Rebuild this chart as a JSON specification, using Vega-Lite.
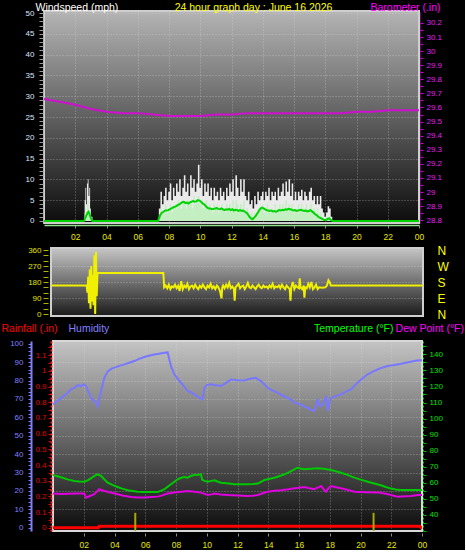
{
"$schema": "https://vega.github.io/schema/vega-lite/v6.json",
"background": "#000000",
"padding": {"left": 0, "top": 1, "right": 0, "bottom": 0},
"config": {
  "font": "Liberation Sans",
  "axis": {"labelFont": "Liberation Sans", "titleFont": "Liberation Sans", "titleFontWeight": "normal", "titleFontSize": 10.5, "labelFontSize": 8, "labelOverlap": false, "labelFlush": false}
},
"datasets": {
  "wind": [
    {"h":0,"g":0,"s":0,"a":0},{"h":2.55,"g":0,"s":0,"a":0},{"h":2.6,"g":5,"s":2,"a":0.3},{"h":2.65,"g":8,"s":3,"a":0.8},{"h":2.7,"g":4,"s":1,"a":1.2},{"h":2.75,"g":9,"s":4,"a":1.6},{"h":2.8,"g":10,"s":5,"a":2.0},{"h":2.85,"g":6,"s":3,"a":2.2},{"h":2.9,"g":8,"s":2,"a":1.8},{"h":2.95,"g":3,"s":1,"a":1.2},{"h":3.0,"g":1,"s":0,"a":0.6},{"h":3.1,"g":0,"s":0,"a":0},{"h":7.3,"g":0,"s":0,"a":0},
    {"h":7.35,"g":3,"s":1,"a":0.5},{"h":7.45,"g":7,"s":3,"a":1.5},{"h":7.55,"g":4,"s":2,"a":2.0},{"h":7.65,"g":6,"s":2,"a":2.2},{"h":7.75,"g":8,"s":4,"a":2.5},{"h":7.85,"g":5,"s":2,"a":2.5},{"h":7.95,"g":7,"s":3,"a":2.6},{"h":8.05,"g":9,"s":4,"a":2.8},{"h":8.15,"g":5,"s":2,"a":3.0},{"h":8.25,"g":8,"s":3,"a":3.2},{"h":8.35,"g":6,"s":4,"a":3.4},{"h":8.45,"g":9,"s":3,"a":3.5},{"h":8.55,"g":7,"s":5,"a":3.8},{"h":8.65,"g":10,"s":4,"a":4.0},{"h":8.75,"g":6,"s":3,"a":4.2},{"h":8.85,"g":8,"s":5,"a":4.5},{"h":8.95,"g":11,"s":4,"a":4.6},{"h":9.05,"g":7,"s":3,"a":4.3},{"h":9.15,"g":9,"s":5,"a":4.4},{"h":9.25,"g":6,"s":4,"a":4.2},{"h":9.35,"g":11,"s":5,"a":4.5},{"h":9.45,"g":8,"s":3,"a":4.6},{"h":9.55,"g":10,"s":6,"a":4.8},{"h":9.65,"g":7,"s":4,"a":4.6},{"h":9.75,"g":9,"s":5,"a":4.7},{"h":9.85,"g":13.5,"s":6,"a":5.0},{"h":9.95,"g":8,"s":4,"a":4.9},{"h":10.05,"g":10,"s":5,"a":4.6},{"h":10.15,"g":6,"s":3,"a":4.2},{"h":10.25,"g":9,"s":4,"a":4.0},{"h":10.35,"g":7,"s":5,"a":3.6},{"h":10.45,"g":9,"s":3,"a":3.2},{"h":10.55,"g":6,"s":4,"a":3.0},{"h":10.65,"g":8,"s":3,"a":3.0},{"h":10.75,"g":5,"s":2,"a":2.8},{"h":10.85,"g":8,"s":4,"a":2.9},{"h":10.95,"g":6,"s":3,"a":3.0},{"h":11.05,"g":7,"s":4,"a":3.1},{"h":11.15,"g":5,"s":2,"a":2.9},{"h":11.25,"g":8,"s":3,"a":2.8},{"h":11.35,"g":6,"s":4,"a":3.0},{"h":11.45,"g":7,"s":3,"a":2.8},{"h":11.55,"g":5,"s":2,"a":2.6},{"h":11.65,"g":8,"s":4,"a":2.8},{"h":11.75,"g":6,"s":3,"a":2.7},{"h":11.85,"g":9,"s":4,"a":2.9},{"h":11.95,"g":7,"s":3,"a":2.6},{"h":12.05,"g":10,"s":5,"a":2.8},{"h":12.15,"g":6,"s":3,"a":2.5},{"h":12.25,"g":11,"s":5,"a":2.7},{"h":12.35,"g":8,"s":4,"a":2.6},{"h":12.45,"g":6,"s":3,"a":2.4},{"h":12.55,"g":10,"s":4,"a":2.6},{"h":12.65,"g":7,"s":3,"a":2.4},{"h":12.75,"g":10,"s":5,"a":2.5},{"h":12.85,"g":6,"s":2,"a":2.2},{"h":12.95,"g":5,"s":3,"a":2.0},{"h":13.05,"g":7,"s":2,"a":1.6},{"h":13.15,"g":4,"s":1,"a":1.0},{"h":13.25,"g":5,"s":2,"a":0.6},{"h":13.35,"g":3,"s":1,"a":0.4},{"h":13.45,"g":6,"s":2,"a":0.8},{"h":13.55,"g":4,"s":2,"a":1.2},{"h":13.65,"g":7,"s":3,"a":1.8},{"h":13.75,"g":5,"s":2,"a":2.4},{"h":13.85,"g":6,"s":3,"a":3.0},{"h":13.95,"g":7,"s":4,"a":3.2},{"h":14.05,"g":5,"s":2,"a":3.0},{"h":14.15,"g":7,"s":3,"a":2.8},{"h":14.25,"g":6,"s":4,"a":2.6},{"h":14.35,"g":8,"s":3,"a":2.5},{"h":14.45,"g":5,"s":2,"a":2.4},{"h":14.55,"g":7,"s":3,"a":2.5},{"h":14.65,"g":6,"s":2,"a":2.3},{"h":14.75,"g":7,"s":4,"a":2.4},{"h":14.85,"g":5,"s":2,"a":2.2},{"h":14.95,"g":8,"s":3,"a":2.4},{"h":15.05,"g":6,"s":4,"a":2.6},{"h":15.15,"g":7,"s":3,"a":2.5},{"h":15.25,"g":9,"s":4,"a":2.7},{"h":15.35,"g":6,"s":3,"a":2.6},{"h":15.45,"g":9.5,"s":5,"a":2.8},{"h":15.55,"g":7,"s":3,"a":2.7},{"h":15.65,"g":10,"s":4,"a":2.9},{"h":15.75,"g":6,"s":3,"a":2.8},{"h":15.85,"g":9,"s":4,"a":2.7},{"h":15.95,"g":5,"s":2,"a":2.5},{"h":16.05,"g":7,"s":3,"a":2.6},{"h":16.15,"g":5,"s":2,"a":2.4},{"h":16.25,"g":7,"s":4,"a":2.5},{"h":16.35,"g":6,"s":3,"a":2.6},{"h":16.45,"g":7.5,"s":4,"a":2.7},{"h":16.55,"g":5,"s":2,"a":2.5},{"h":16.65,"g":7,"s":3,"a":2.4},{"h":16.75,"g":6,"s":4,"a":2.5},{"h":16.85,"g":5,"s":2,"a":2.3},{"h":16.95,"g":7,"s":3,"a":2.4},{"h":17.05,"g":8,"s":4,"a":2.6},{"h":17.15,"g":5,"s":2,"a":2.3},{"h":17.25,"g":6,"s":3,"a":2.0},{"h":17.35,"g":4,"s":2,"a":1.6},{"h":17.45,"g":6,"s":3,"a":1.4},{"h":17.55,"g":4,"s":1,"a":1.0},{"h":17.65,"g":6,"s":2,"a":0.8},{"h":17.75,"g":3,"s":1,"a":0.6},{"h":17.85,"g":2,"s":0,"a":0.4},{"h":17.95,"g":1,"s":0,"a":0.2},{"h":18.05,"g":2,"s":1,"a":0.2},{"h":18.15,"g":3.5,"s":1,"a":0.5},{"h":18.25,"g":3,"s":1,"a":0.6},{"h":18.35,"g":1,"s":0,"a":0.3},{"h":18.45,"g":0,"s":0,"a":0},{"h":24,"g":0,"s":0,"a":0}
  ],
  "baro": [
    {"h":0,"b":29.66},{"h":1,"b":29.64},{"h":2,"b":29.62},{"h":3,"b":29.59},{"h":4,"b":29.57},{"h":5,"b":29.56},{"h":6,"b":29.56},{"h":7,"b":29.55},{"h":8,"b":29.54},{"h":9,"b":29.54},{"h":10,"b":29.54},{"h":11,"b":29.55},{"h":12,"b":29.55},{"h":13,"b":29.56},{"h":14,"b":29.56},{"h":15,"b":29.56},{"h":16,"b":29.56},{"h":17,"b":29.56},{"h":18,"b":29.56},{"h":19,"b":29.56},{"h":20,"b":29.57},{"h":21,"b":29.57},{"h":22,"b":29.58},{"h":23,"b":29.58},{"h":24,"b":29.58}
  ],
  "dir": [
    {"h":0,"d":160},{"h":2.3,"d":160},{"h":2.35,"d":120},{"h":2.4,"d":210},{"h":2.45,"d":60},{"h":2.5,"d":250},{"h":2.55,"d":30},{"h":2.6,"d":270},{"h":2.65,"d":70},{"h":2.7,"d":220},{"h":2.75,"d":50},{"h":2.8,"d":330},{"h":2.85,"d":0},{"h":2.9,"d":350},{"h":2.95,"d":100},{"h":3.0,"d":230},{"h":7.25,"d":230},
    {"h":7.3,"d":150},{"h":7.4,"d":160},{"h":7.5,"d":145},{"h":7.6,"d":165},{"h":7.7,"d":140},{"h":7.8,"d":155},{"h":7.9,"d":150},{"h":8.0,"d":165},{"h":8.1,"d":145},{"h":8.2,"d":158},{"h":8.3,"d":130},{"h":8.4,"d":185},{"h":8.5,"d":140},{"h":8.6,"d":160},{"h":8.7,"d":150},{"h":8.8,"d":170},{"h":8.9,"d":140},{"h":9.0,"d":155},{"h":9.1,"d":160},{"h":9.2,"d":145},{"h":9.3,"d":165},{"h":9.4,"d":150},{"h":9.5,"d":140},{"h":9.6,"d":158},{"h":9.7,"d":148},{"h":9.8,"d":165},{"h":9.9,"d":150},{"h":10.0,"d":140},{"h":10.1,"d":160},{"h":10.2,"d":150},{"h":10.3,"d":170},{"h":10.4,"d":145},{"h":10.5,"d":155},{"h":10.6,"d":140},{"h":10.7,"d":160},{"h":10.8,"d":150},{"h":10.9,"d":130},{"h":11.0,"d":88},{"h":11.05,"d":150},{"h":11.1,"d":160},{"h":11.2,"d":145},{"h":11.3,"d":165},{"h":11.4,"d":150},{"h":11.5,"d":175},{"h":11.6,"d":145},{"h":11.7,"d":155},{"h":11.8,"d":140},{"h":11.85,"d":75},{"h":11.9,"d":150},{"h":12.0,"d":160},{"h":12.1,"d":170},{"h":12.2,"d":145},{"h":12.3,"d":155},{"h":12.4,"d":160},{"h":12.5,"d":140},{"h":12.6,"d":155},{"h":12.7,"d":175},{"h":12.8,"d":150},{"h":12.9,"d":145},{"h":13.0,"d":160},{"h":13.1,"d":150},{"h":13.2,"d":140},{"h":13.3,"d":155},{"h":13.4,"d":165},{"h":13.5,"d":150},{"h":13.6,"d":145},{"h":13.7,"d":160},{"h":13.8,"d":150},{"h":13.9,"d":155},{"h":14.0,"d":145},{"h":14.1,"d":160},{"h":14.2,"d":150},{"h":14.3,"d":170},{"h":14.4,"d":145},{"h":14.5,"d":155},{"h":14.6,"d":150},{"h":14.7,"d":160},{"h":14.8,"d":145},{"h":14.9,"d":165},{"h":15.0,"d":150},{"h":15.1,"d":140},{"h":15.2,"d":160},{"h":15.3,"d":150},{"h":15.4,"d":140},{"h":15.45,"d":75},{"h":15.5,"d":150},{"h":15.6,"d":180},{"h":15.7,"d":140},{"h":15.8,"d":160},{"h":15.9,"d":150},{"h":16.0,"d":145},{"h":16.05,"d":200},{"h":16.1,"d":150},{"h":16.2,"d":140},{"h":16.3,"d":160},{"h":16.35,"d":92},{"h":16.4,"d":150},{"h":16.5,"d":145},{"h":16.6,"d":170},{"h":16.7,"d":150},{"h":16.8,"d":180},{"h":16.9,"d":140},{"h":17.0,"d":150},{"h":17.1,"d":165},{"h":17.2,"d":140},{"h":17.3,"d":150},{"h":17.5,"d":148},{"h":17.7,"d":150},{"h":17.8,"d":160},{"h":17.9,"d":190},{"h":18.0,"d":175},{"h":18.05,"d":160},{"h":24,"d":160}
  ],
  "hum": [
    {"h":0,"v":67},{"h":0.3,"v":69},{"h":0.6,"v":71},{"h":0.95,"v":73.4},{"h":1.2,"v":75.5},{"h":1.4,"v":76},{"h":1.6,"v":77.5},{"h":1.82,"v":77},{"h":2.0,"v":78},{"h":2.15,"v":77},{"h":2.3,"v":74},{"h":2.47,"v":70.6},{"h":2.65,"v":69},{"h":2.8,"v":68},{"h":2.9,"v":66},{"h":3.0,"v":70},{"h":3.12,"v":74},{"h":3.34,"v":81.5},{"h":3.56,"v":85},{"h":3.8,"v":86.5},{"h":4.0,"v":87},{"h":4.3,"v":88},{"h":4.64,"v":88.8},{"h":5.0,"v":89.8},{"h":5.29,"v":90.6},{"h":5.6,"v":91.8},{"h":5.94,"v":92.8},{"h":6.3,"v":93.6},{"h":6.59,"v":94.2},{"h":6.9,"v":94.6},{"h":7.24,"v":95.1},{"h":7.46,"v":95.3},{"h":7.55,"v":92},{"h":7.67,"v":88},{"h":7.89,"v":83.4},{"h":8.1,"v":81},{"h":8.33,"v":78.8},{"h":8.55,"v":76.5},{"h":8.76,"v":74.3},{"h":9.0,"v":73.5},{"h":9.19,"v":72.5},{"h":9.35,"v":71.5},{"h":9.5,"v":70.7},{"h":9.73,"v":69.8},{"h":9.84,"v":76},{"h":10.0,"v":77.5},{"h":10.27,"v":78},{"h":10.6,"v":77.5},{"h":10.93,"v":77},{"h":11.2,"v":78.5},{"h":11.58,"v":80.6},{"h":12.0,"v":80.2},{"h":12.44,"v":80},{"h":12.8,"v":81},{"h":13.2,"v":81.5},{"h":13.35,"v":80.5},{"h":13.53,"v":79.7},{"h":13.75,"v":78},{"h":13.96,"v":76},{"h":14.3,"v":74.5},{"h":14.6,"v":73.4},{"h":14.9,"v":72},{"h":15.26,"v":70.6},{"h":15.5,"v":69.5},{"h":15.7,"v":68},{"h":15.9,"v":67.5},{"h":16.13,"v":67},{"h":16.3,"v":66},{"h":16.56,"v":65.2},{"h":16.8,"v":64},{"h":16.99,"v":63.4},{"h":17.1,"v":66},{"h":17.2,"v":70},{"h":17.3,"v":67},{"h":17.43,"v":66},{"h":17.6,"v":68},{"h":17.76,"v":71.6},{"h":17.87,"v":63.4},{"h":17.95,"v":67},{"h":18.08,"v":70.6},{"h":18.4,"v":71.5},{"h":18.73,"v":72.5},{"h":19.05,"v":74},{"h":19.38,"v":75.2},{"h":19.8,"v":78.8},{"h":20.1,"v":81},{"h":20.47,"v":83.4},{"h":20.8,"v":84.8},{"h":21.1,"v":86},{"h":21.4,"v":87},{"h":21.77,"v":87.9},{"h":22.2,"v":88.5},{"h":22.64,"v":89.1},{"h":23.1,"v":90},{"h":23.5,"v":90.6},{"h":23.8,"v":91},{"h":24,"v":91}
  ],
  "temp": [
    {"h":0,"t":64.9},{"h":0.4,"t":63.8},{"h":0.73,"t":62.8},{"h":1.0,"t":62},{"h":1.39,"t":61.2},{"h":1.7,"t":60.8},{"h":2.03,"t":60.7},{"h":2.25,"t":61.5},{"h":2.47,"t":62.8},{"h":2.7,"t":64.3},{"h":2.9,"t":65.3},{"h":3.12,"t":64.3},{"h":3.3,"t":62.5},{"h":3.56,"t":60.1},{"h":3.9,"t":58.6},{"h":4.2,"t":57.4},{"h":4.5,"t":56.4},{"h":4.86,"t":55.4},{"h":5.2,"t":54.9},{"h":5.51,"t":54.5},{"h":5.94,"t":54.3},{"h":6.4,"t":54.3},{"h":6.81,"t":54.3},{"h":7.0,"t":55},{"h":7.24,"t":56},{"h":7.45,"t":57.5},{"h":7.67,"t":59.1},{"h":7.9,"t":60.7},{"h":8.11,"t":62.2},{"h":8.3,"t":63},{"h":8.54,"t":63.6},{"h":8.76,"t":63.2},{"h":8.95,"t":64.3},{"h":9.19,"t":64.9},{"h":9.45,"t":65},{"h":9.63,"t":65.3},{"h":9.7,"t":62},{"h":9.85,"t":61.2},{"h":10.06,"t":60.7},{"h":10.3,"t":61.2},{"h":10.5,"t":61.6},{"h":10.7,"t":60.8},{"h":10.93,"t":60.1},{"h":11.3,"t":59.8},{"h":11.8,"t":59.1},{"h":12.2,"t":59.1},{"h":12.66,"t":59.1},{"h":13.0,"t":59.2},{"h":13.32,"t":59.5},{"h":13.5,"t":60.5},{"h":13.75,"t":61.8},{"h":14.1,"t":62.5},{"h":14.4,"t":63.2},{"h":14.75,"t":64.2},{"h":15.05,"t":65.3},{"h":15.4,"t":66.8},{"h":15.7,"t":68.4},{"h":15.9,"t":69.4},{"h":16.1,"t":68.9},{"h":16.34,"t":68.4},{"h":16.8,"t":68.8},{"h":17.2,"t":69.1},{"h":17.6,"t":68.7},{"h":18.08,"t":68},{"h":18.4,"t":67.2},{"h":18.73,"t":66.3},{"h":19.2,"t":64.8},{"h":19.6,"t":63.2},{"h":20.0,"t":62},{"h":20.47,"t":60.7},{"h":20.9,"t":59.6},{"h":21.33,"t":58.5},{"h":21.65,"t":57.4},{"h":21.98,"t":56.4},{"h":22.3,"t":55.8},{"h":22.63,"t":55.6},{"h":23.2,"t":55.6},{"h":23.72,"t":55.6},{"h":24,"t":55.6}
  ],
  "dew": [
    {"h":0,"t":53.3},{"h":0.5,"t":53.1},{"h":1.0,"t":53.2},{"h":1.5,"t":53.3},{"h":2.03,"t":53.3},{"h":2.15,"t":50.8},{"h":2.4,"t":51.8},{"h":2.68,"t":52.9},{"h":2.85,"t":54.5},{"h":3.0,"t":56},{"h":3.34,"t":54.9},{"h":3.8,"t":53.8},{"h":4.2,"t":52.9},{"h":4.6,"t":52},{"h":5.07,"t":51.2},{"h":5.5,"t":50.9},{"h":5.94,"t":50.8},{"h":6.4,"t":51.1},{"h":6.81,"t":51.4},{"h":7.1,"t":52.2},{"h":7.46,"t":53.3},{"h":7.9,"t":54},{"h":8.33,"t":54.5},{"h":8.76,"t":54.9},{"h":9.2,"t":54.4},{"h":9.63,"t":53.9},{"h":10.06,"t":52.4},{"h":10.3,"t":52.8},{"h":10.5,"t":53.3},{"h":10.9,"t":52.8},{"h":11.37,"t":52.4},{"h":12.0,"t":52.1},{"h":12.66,"t":51.8},{"h":13.0,"t":52},{"h":13.32,"t":52.4},{"h":13.65,"t":53.5},{"h":13.97,"t":54.5},{"h":14.4,"t":55},{"h":14.83,"t":55.4},{"h":15.3,"t":56},{"h":15.7,"t":56.6},{"h":16.0,"t":57},{"h":16.34,"t":57.4},{"h":16.6,"t":56.8},{"h":17.0,"t":56},{"h":17.2,"t":57},{"h":17.45,"t":58},{"h":17.6,"t":56},{"h":17.76,"t":54.5},{"h":17.9,"t":56.5},{"h":18.08,"t":58},{"h":18.4,"t":57.3},{"h":18.73,"t":56.6},{"h":19.2,"t":55.5},{"h":19.6,"t":54.5},{"h":20.4,"t":54.2},{"h":21.2,"t":53.9},{"h":21.8,"t":52.9},{"h":22.4,"t":51.4},{"h":22.9,"t":51.6},{"h":23.28,"t":51.8},{"h":23.72,"t":52.4},{"h":24,"t":52.4}
  ],
  "rain": [
    {"h":0,"r":0},{"h":2.95,"r":0},{"h":3.0,"r":0.01},{"h":23.85,"r":0.01},{"h":23.95,"r":0},{"h":24,"r":0}
  ],
  "sun": [
    {"h":5.35,"top":0.095,"bot":-0.02},{"h":20.85,"top":0.095,"bot":-0.02}
  ]
},
"spacing": 1,
"vconcat": [
  {
    "spacing": 0,
    "vconcat": [
      {
        "width": 375,
        "height": 212,
        "view": {"fill": {"gradient": "linear", "x1": 0, "y1": 0, "x2": 0, "y2": 1, "stops": [{"offset": 0, "color": "#b4b4b4"}, {"offset": 1, "color": "#0c0c0c"}]}, "stroke": "#cfcfcf", "strokeWidth": 2},
        "resolve": {"scale": {"y": "independent"}, "axis": {"x": "independent", "y": "independent"}},
        "layer": [
          {
            "data": {"name": "wind"},
            "mark": {"type": "area", "interpolate": "step-after", "color": "#f6f6f6", "opacity": 0.95},
            "encoding": {
              "x": {"field": "h", "type": "quantitative", "scale": {"domain": [0, 24], "nice": false, "zero": false},
                "axis": {"values": [2,4,6,8,10,12,14,16,18,20,22,24], "labelExpr": "datum.value == 24 ? '00' : (datum.value < 10 ? '0' + datum.value : '' + datum.value)", "labelColor": "#e8e800", "labelFontSize": 8.5, "tickColor": "#8a8a8a", "tickSize": 3, "domain": true, "domainColor": "#90e090", "domainWidth": 1.5, "offset": 2, "labelPadding": 4, "grid": true, "gridColor": "#e0e0e0", "gridDash": [1, 2], "gridOpacity": 0.45, "title": null}},
              "y": {"field": "g", "type": "quantitative", "scale": {"domain": [-0.5, 50.5], "nice": false, "zero": false},
                "axis": {"orient": "left", "offset": 1, "values": [0,1,2,3,4,5,6,7,8,9,10,11,12,13,14,15,16,17,18,19,20,21,22,23,24,25,26,27,28,29,30,31,32,33,34,35,36,37,38,39,40,41,42,43,44,45,46,47,48,49,50], "labelExpr": "datum.value % 5 == 0 ? datum.label : ''", "labelColor": "#dce6ff", "labelFontSize": 8, "labelPadding": 5, "tickSize": 4, "tickColor": "#9a9a9a", "domainColor": "#9a9a9a", "domainDash": [1, 1], "grid": true, "gridColor": "#e0e0e0", "gridDash": [1, 2], "gridOpacity": {"condition": {"test": "datum.value % 5 == 0 && datum.value > 0", "value": 0.45}, "value": 0}, "title": "Windspeed (mph)", "titleColor": "#ffffff", "titleAngle": 0, "titleAlign": "left", "titleBaseline": "alphabetic", "titleX": -8, "titleY": -1}},
              "y2": {"datum": 0}
            }
          },
          {
            "data": {"name": "wind"},
            "mark": {"type": "area", "interpolate": "step-after", "color": "#bff0bf", "opacity": 0.9},
            "encoding": {
              "x": {"field": "h", "type": "quantitative", "scale": {"domain": [0, 24], "nice": false, "zero": false}, "axis": null},
              "y": {"field": "s", "type": "quantitative", "scale": {"domain": [-0.5, 50.5], "nice": false, "zero": false}, "axis": null},
              "y2": {"datum": 0}
            }
          },
          {
            "data": {"name": "wind"},
            "mark": {"type": "line", "color": "#00d400", "strokeWidth": 2},
            "encoding": {
              "x": {"field": "h", "type": "quantitative", "scale": {"domain": [0, 24], "nice": false, "zero": false}, "axis": null},
              "y": {"field": "a", "type": "quantitative", "scale": {"domain": [-0.5, 50.5], "nice": false, "zero": false}, "axis": null}
            }
          },
          {
            "data": {"name": "baro"},
            "mark": {"type": "line", "color": "#d010d0", "strokeWidth": 2},
            "encoding": {
              "x": {"field": "h", "type": "quantitative", "scale": {"domain": [0, 24], "nice": false, "zero": false},
                "axis": {"orient": "top", "labels": false, "ticks": false, "domain": false, "grid": false, "title": "24 hour graph day : June 16 2026", "titleColor": "#ffff00", "titleX": 209, "titleY": -1, "titleAlign": "center", "titleBaseline": "alphabetic", "titleAngle": 0}},
              "y": {"field": "b", "type": "quantitative", "scale": {"domain": [28.78, 30.285], "nice": false, "zero": false},
                "axis": {"orient": "right", "offset": 1, "values": [28.8,28.85,28.9,28.95,29,29.05,29.1,29.15,29.2,29.25,29.3,29.35,29.4,29.45,29.5,29.55,29.6,29.65,29.7,29.75,29.8,29.85,29.9,29.95,30,30.05,30.1,30.15,30.2], "labelExpr": "abs(datum.value*10 - round(datum.value*10)) < 0.01 ? format(datum.value, '.1~f') : ''", "labelColor": "#e020f0", "labelFontSize": 8, "tickColor": "#d000d0", "domainColor": "#d000d0", "domainDash": [1, 1], "tickSize": 3, "labelPadding": 3, "grid": false, "title": "Barometer (.in)", "titleColor": "#ff00ff", "titleAngle": 0, "titleAlign": "right", "titleBaseline": "alphabetic", "titleX": 20, "titleY": -1}}
            }
          }
        ]
      },
      {
        "bounds": "flush",
        "spacing": 6,
        "hconcat": [
          {"width": 1, "height": 1, "data": {"values": [{"a": 0}]}, "mark": {"type": "text", "text": ""}, "view": {"stroke": null, "fill": null}},
          {
            "width": 372,
            "height": 68,
            "view": {"fill": {"gradient": "linear", "x1": 0, "y1": 0, "x2": 0, "y2": 1, "stops": [{"offset": 0, "color": "#c6c6c6"}, {"offset": 1, "color": "#1a1a1a"}]}, "stroke": "#cfcfcf", "strokeWidth": 2},
            "resolve": {"axis": {"y": "independent"}},
            "layer": [
              {
                "data": {"name": "dir"},
                "mark": {"type": "line", "color": "#f0f000", "strokeWidth": 2},
                "encoding": {
                  "x": {"field": "h", "type": "quantitative", "scale": {"domain": [0, 24], "nice": false, "zero": false}, "axis": null},
                  "y": {"field": "d", "type": "quantitative", "scale": {"domain": [-11.25, 371.25], "nice": false, "zero": false},
                    "axis": {"orient": "left", "offset": 3, "values": [0,30,60,90,120,150,180,210,240,270,300,330,360], "labelExpr": "datum.value % 90 == 0 ? datum.label : ''", "labelColor": "#e0e000", "labelFontSize": 8, "tickColor": "#b0b000", "tickSize": 5, "labelPadding": 2, "domain": false, "grid": true, "gridColor": "#e0e0e0", "gridDash": [1, 2], "gridOpacity": {"condition": {"test": "datum.value % 90 == 0 && datum.value > 0 && datum.value < 360", "value": 0.45}, "value": 0}, "title": null}}
                }
              },
              {
                "data": {"name": "dir"},
                "mark": {"type": "line", "opacity": 0},
                "encoding": {
                  "x": {"field": "h", "type": "quantitative", "scale": {"domain": [0, 24], "nice": false, "zero": false}, "axis": null},
                  "y": {"field": "d", "type": "quantitative",
                    "axis": {"orient": "right", "values": [0, 90, 180, 270, 360], "labelExpr": "['N','E','S','W','N'][round(datum.value/90)]", "labelColor": "#ffff00", "labelFontSize": 12, "ticks": false, "domain": false, "labelPadding": 14, "grid": false, "title": null}}
                }
              }
            ]
          }
        ]
      }
    ]
  },
  {
    "bounds": "flush",
    "spacing": 8,
    "hconcat": [
      {"width": 1, "height": 1, "data": {"values": [{"a": 0}]}, "mark": {"type": "text", "text": ""}, "view": {"stroke": null, "fill": null}},
      {
        "width": 369,
        "height": 190,
        "view": {"fill": {"gradient": "linear", "x1": 0, "y1": 0, "x2": 0, "y2": 1, "stops": [{"offset": 0, "color": "#c4c4c4"}, {"offset": 1, "color": "#0c0c0c"}]}, "stroke": "#d8d8d8", "strokeWidth": 2},
        "resolve": {"scale": {"y": "independent"}, "axis": {"x": "independent", "y": "independent"}},
        "layer": [
          {
            "data": {"name": "hum"},
            "mark": {"type": "line", "color": "#7878ff", "strokeWidth": 2},
            "encoding": {
              "x": {"field": "h", "type": "quantitative", "scale": {"domain": [0, 24], "nice": false, "zero": false},
                "axis": {"values": [2,4,6,8,10,12,14,16,18,20,22,24], "labelExpr": "datum.value == 24 ? '00' : (datum.value < 10 ? '0' + datum.value : '' + datum.value)", "labelColor": "#e8e800", "labelFontSize": 8.5, "tickColor": "#8a8a8a", "tickSize": 3, "domain": false, "offset": 2, "labelPadding": 4, "grid": true, "gridColor": "#e0e0e0", "gridDash": [1, 2], "gridOpacity": 0.45, "title": null}},
              "y": {"field": "v", "type": "quantitative", "scale": {"domain": [-1.8, 101.5], "nice": false, "zero": false},
                "axis": {"orient": "left", "offset": 22, "values": [0,2,4,6,8,10,12,14,16,18,20,22,24,26,28,30,32,34,36,38,40,42,44,46,48,50,52,54,56,58,60,62,64,66,68,70,72,74,76,78,80,82,84,86,88,90,92,94,96,98,100], "labelExpr": "datum.value % 10 == 0 ? datum.label : ''", "labelColor": "#8080ff", "labelFontSize": 8, "tickColor": "#8080ff", "tickSize": 3, "domainColor": "#8080ff", "domainWidth": 2, "labelPadding": 5, "grid": true, "gridColor": "#e0e0e0", "gridDash": [1, 2], "gridOpacity": {"condition": {"test": "datum.value % 10 == 0 && datum.value > 0 && datum.value < 100", "value": 0.45}, "value": 0}, "title": "Humidity", "titleColor": "#8080ff", "titleAngle": 0, "titleAlign": "left", "titleBaseline": "alphabetic", "titleX": 37, "titleY": -10}}
            }
          },
          {
            "data": {"name": "rain"},
            "mark": {"type": "line", "color": "#ff0000", "strokeWidth": 3},
            "encoding": {
              "x": {"field": "h", "type": "quantitative", "scale": {"domain": [0, 24], "nice": false, "zero": false}, "axis": null},
              "y": {"field": "r", "type": "quantitative", "scale": {"domain": [-0.021, 1.191], "nice": false, "zero": false},
                "axis": {"orient": "left", "offset": 2, "values": [0,0.05,0.1,0.15,0.2,0.25,0.3,0.35,0.4,0.45,0.5,0.55,0.6,0.65,0.7,0.75,0.8,0.85,0.9,0.95,1,1.05,1.1,1.15,1.2], "labelExpr": "abs(datum.value*10 - round(datum.value*10)) < 0.01 ? format(datum.value, '.1~f') : ''", "labelColor": "#e00000", "labelFontSize": 8, "tickColor": "#e00000", "tickSize": 3, "domainColor": "#ff2020", "domainDash": [2, 2], "domainWidth": 2, "labelPadding": 2, "grid": false, "title": "Rainfall (.in)", "titleColor": "#ff0000", "titleAngle": 0, "titleAlign": "left", "titleBaseline": "alphabetic", "titleX": -50, "titleY": -10}}
            }
          },
          {
            "data": {"name": "sun"},
            "mark": {"type": "rule", "color": "#a8a800", "strokeWidth": 2},
            "encoding": {
              "x": {"field": "h", "type": "quantitative", "scale": {"domain": [0, 24], "nice": false, "zero": false}, "axis": null},
              "y": {"field": "top", "type": "quantitative", "scale": {"domain": [-0.021, 1.191], "nice": false, "zero": false}, "axis": null},
              "y2": {"field": "bot"}
            }
          },
          {
            "data": {"name": "temp"},
            "mark": {"type": "line", "color": "#00c800", "strokeWidth": 2},
            "encoding": {
              "x": {"field": "h", "type": "quantitative", "scale": {"domain": [0, 24], "nice": false, "zero": false}, "axis": null},
              "y": {"field": "t", "type": "quantitative", "scale": {"domain": [30, 148.3], "nice": false, "zero": false},
                "axis": {"orient": "right", "offset": 1, "values": [30,35,40,45,50,55,60,65,70,75,80,85,90,95,100,105,110,115,120,125,130,135,140,145], "labelExpr": "datum.value % 10 == 0 && datum.value >= 40 ? datum.label : ''", "labelColor": "#00e000", "labelFontSize": 8, "tickColor": "#00c000", "tickSize": 3, "domainColor": "#00c000", "domainDash": [2, 2], "labelPadding": 3, "grid": false, "title": "Temperature (°F)", "titleColor": "#00ff00", "titleAngle": 0, "titleAlign": "right", "titleBaseline": "alphabetic", "titleX": -30, "titleY": -10}}
            }
          },
          {
            "data": {"name": "dew"},
            "mark": {"type": "line", "color": "#e000e0", "strokeWidth": 2},
            "encoding": {
              "x": {"field": "h", "type": "quantitative", "scale": {"domain": [0, 24], "nice": false, "zero": false}, "axis": null},
              "y": {"field": "t", "type": "quantitative", "scale": {"domain": [30, 148.3], "nice": false, "zero": false},
                "axis": {"orient": "right", "offset": 1, "labels": false, "ticks": false, "domain": false, "grid": false, "title": "Dew Point (°F)", "titleColor": "#ff00ff", "titleAngle": 0, "titleAlign": "right", "titleBaseline": "alphabetic", "titleX": 40.5, "titleY": -10}}
            }
          }
        ]
      }
    ]
  }
]
}
